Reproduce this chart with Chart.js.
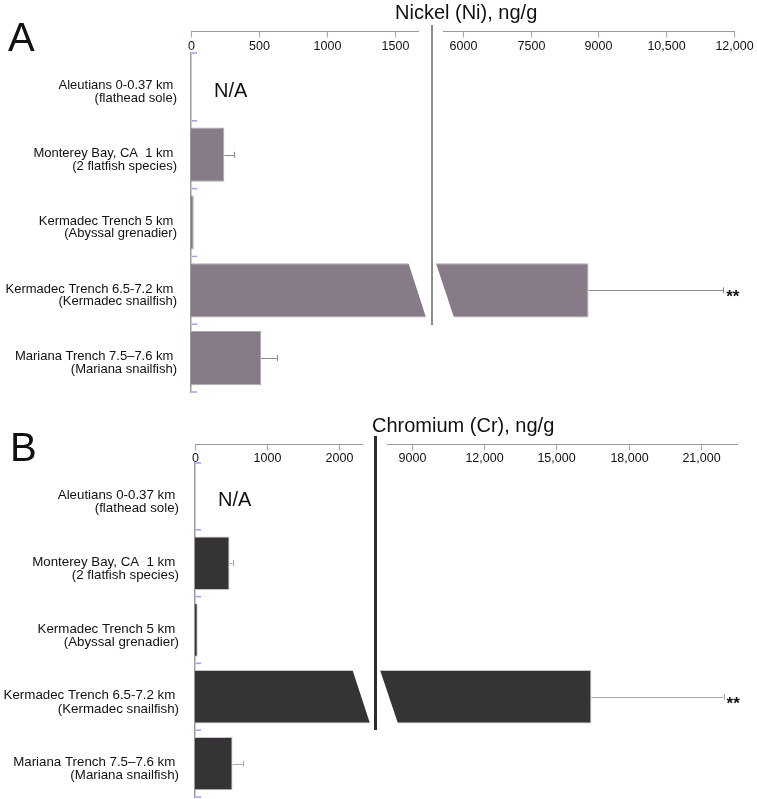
<!DOCTYPE html>
<html>
<head>
<meta charset="utf-8">
<script src="https://cdn.jsdelivr.net/npm/chart.js@4.4.1/dist/chart.umd.min.js"></script>
<style>
  body { margin: 0; background: #fff; }
  #wrap { position: relative; width: 757px; height: 799px; overflow: hidden; font-family: "Liberation Sans", Arial, Helvetica, sans-serif; }
  #wrap canvas { position: absolute; }
  .txt { position: absolute; white-space: nowrap; color: #111; }
  .brk { position: absolute; }
</style>
</head>
<body>
<div id="wrap">
  <canvas id="niLow" width="430" height="400" style="left:0;top:0"></canvas>
  <canvas id="niHigh" width="327" height="400" style="left:430px;top:0"></canvas>
  <canvas id="crLow" width="372" height="389" style="left:0;top:410px"></canvas>
  <canvas id="crHigh" width="385" height="389" style="left:372px;top:410px"></canvas>
  <div class="brk" style="left:431px;top:25px;width:2px;height:300px;background:#8c8c8c"></div>
  <div class="brk" style="left:374px;top:436px;width:3px;height:294px;background:#2b2b2b"></div>
  <div class="txt" style="left:8px;top:17px;font-size:40px;line-height:40px;">A</div>
  <div class="txt" style="left:10px;top:427px;font-size:40px;line-height:40px;">B</div>
  <div class="txt" style="left:395px;top:1.5px;font-size:20px;line-height:20px;">Nickel (Ni), ng/g</div>
  <div class="txt" style="left:372px;top:415px;font-size:20px;line-height:20px;">Chromium (Cr), ng/g</div>
</div>
<script>
// data
var sites = [
    ['Aleutians 0-0.37 km ', '(flathead sole)'],
    ['Monterey Bay, CA  1 km ', '(2 flatfish species)'],
    ['Kermadec Trench 5 km ', '(Abyssal grenadier)'],
    ['Kermadec Trench 6.5-7.2 km ', '(Kermadec snailfish)'],
    ['Mariana Trench 7.5\u20137.6 km ', '(Mariana snailfish)']
];
var nickel = [null, 245, 20, 8780, 515];
var nickelErr = [null, 74, 0, 2980, 120];
var chromium = [null, 478, 37, 16450, 520];
var chromiumErr = [null, 42, 0, 5490, 139];
var signif = ['', '', '', '**', ''];

var niLowTicks = ['0', '500', '1000', '1500'];
var niHighTicks = ['6000', '7500', '9000', '10,500', '12,000'];
var crLowTicks = ['0', '1000', '2000'];
var crHighTicks = ['9000', '12,000', '15,000', '18,000', '21,000'];
var niLowRange = [0, 1670];
var niHighRange = [5560, 12000];
var crLowRange = [0, 2312];
var crHighRange = [7960, 22500];

var FONT = '"Liberation Sans", Arial, Helvetica, sans-serif';

// draws top axis, category marks, error bars, N/A and the slanted break
function breakPlugin(cfg) {
    return {
        id: 'breakAxis',
        afterDatasetsDraw: function(chart) {
            var ctx = chart.ctx, area = chart.chartArea;
            var xs = chart.scales.x, ys = chart.scales.y;
            var vals = chart.data.datasets[0].data;
            var bars = chart.getDatasetMeta(0).data;
            ctx.save();

            bars.forEach(function(bar, i) {
                var v = vals[i];
                var top = bar.y - bar.height / 2, bottom = bar.y + bar.height / 2;
                if (v === null) {
                    if (xs.min <= 0) {
                        ctx.fillStyle = '#111';
                        ctx.font = '20px ' + FONT;
                        ctx.textAlign = 'left';
                        ctx.textBaseline = 'alphabetic';
                        ctx.fillText('N/A', xs.getPixelForValue(0) + 23, bar.y + 10);
                    }
                    return;
                }
                ctx.fillStyle = '#fff';
                if (cfg.side === 'low' && v > xs.max) {
                    var e = area.right + cfg.overhang;
                    ctx.beginPath();
                    ctx.moveTo(e - cfg.slant, top - 1.5);
                    ctx.lineTo(e + 3, top - 1.5);
                    ctx.lineTo(e + 3, bottom + 1.5);
                    ctx.lineTo(e, bottom + 1.5);
                    ctx.lineTo(e, bottom);
                    ctx.closePath();
                    ctx.fill();
                }
                if (cfg.side === 'high' && v > xs.min) {
                    var s = area.left - cfg.overhang;
                    ctx.beginPath();
                    ctx.moveTo(s - 3, top - 1.5);
                    ctx.lineTo(s, top - 1.5);
                    ctx.lineTo(s, top);
                    ctx.lineTo(s + cfg.slant, bottom);
                    ctx.lineTo(s + cfg.slant, bottom + 1.5);
                    ctx.lineTo(s - 3, bottom + 1.5);
                    ctx.closePath();
                    ctx.fill();
                }
                var err = cfg.errors[i];
                if (v >= xs.min && v <= xs.max && err > 0) {
                    var x0 = xs.getPixelForValue(v), x1 = xs.getPixelForValue(v + err);
                    ctx.strokeStyle = cfg.errColor;
                    ctx.lineWidth = 1;
                    ctx.beginPath();
                    ctx.moveTo(x0, Math.round(bar.y) + 0.5);
                    ctx.lineTo(x1, Math.round(bar.y) + 0.5);
                    ctx.moveTo(Math.round(x1) + 0.5, bar.y - 3);
                    ctx.lineTo(Math.round(x1) + 0.5, bar.y + 3);
                    ctx.stroke();
                    if (signif[i]) {
                        ctx.fillStyle = '#111';
                        ctx.font = 'bold 17px ' + FONT;
                        ctx.textAlign = 'left';
                        ctx.textBaseline = 'alphabetic';
                        ctx.fillText(signif[i], x1 + 3, bar.y + 12);
                    }
                }
            });

            // top axis with ticks below the line
            var lineY = Math.round(area.top - cfg.axisGap) + 0.5;
            ctx.strokeStyle = '#9a9a9a';
            ctx.lineWidth = 1;
            ctx.beginPath();
            ctx.moveTo(area.left, lineY);
            ctx.lineTo(area.right + 1, lineY);
            ctx.stroke();
            ctx.font = '12.5px ' + FONT;
            ctx.textAlign = 'center';
            ctx.textBaseline = 'middle';
            cfg.ticks.forEach(function(lbl) {
                var px = Math.round(xs.getPixelForValue(Number(lbl.replace(/,/g, '')))) + 0.5;
                ctx.strokeStyle = '#a59cf2';
                ctx.beginPath();
                ctx.moveTo(px, lineY + 0.5);
                ctx.lineTo(px, lineY + 6);
                ctx.stroke();
                ctx.fillStyle = '#111';
                ctx.fillText(lbl, px, lineY + cfg.labelDy);
            });

            // category boundary marks
            if (cfg.side === 'low') {
                var n = vals.length;
                var half = (ys.getPixelForValue(1) - ys.getPixelForValue(0)) / 2;
                ctx.strokeStyle = '#a59cf2';
                ctx.lineWidth = 1.5;
                for (var k = 0; k <= n; k++) {
                    var py = k < n ? ys.getPixelForValue(k) - half : ys.getPixelForValue(n - 1) + half;
                    ctx.beginPath();
                    ctx.moveTo(area.left + 1, py);
                    ctx.lineTo(area.left + 6, py);
                    ctx.stroke();
                }
            }
            ctx.restore();
        }
    };
}

function makeChart(id, cfg) {
    var canvas = document.getElementById(id);
    if (!canvas) return;
    var low = cfg.side === 'low';
    new Chart(canvas.getContext('2d'), {
        type: 'bar',
        data: {
            labels: sites,
            datasets: [{
                data: cfg.values,
                backgroundColor: cfg.fill,
                borderColor: cfg.edge,
                borderWidth: 1,
                barPercentage: 0.8,
                categoryPercentage: 1.0,
                clip: low ? { left: 0, top: 2, right: cfg.overhang, bottom: 2 }
                          : { left: cfg.overhang, top: 2, right: 0, bottom: 2 }
            }]
        },
        options: {
            indexAxis: 'y',
            responsive: false,
            animation: false,
            layout: { padding: cfg.padding },
            plugins: {
                legend: { display: false },
                tooltip: { enabled: false }
            },
            scales: {
                x: {
                    type: 'linear',
                    display: false,
                    min: cfg.range[0],
                    max: cfg.range[1]
                },
                y: {
                    display: low,
                    afterFit: function(scale) {
                        scale.width = cfg.axisWidth;
                        // labels sit inside their bands, no extra room needed
                        scale.paddingTop = 0;
                        scale.paddingBottom = 0;
                    },
                    grid: { display: false, drawTicks: false },
                    border: { display: true, color: '#9a9a9a', width: 1.5 },
                    ticks: {
                        autoSkip: false,
                        padding: cfg.labelPad,
                        labelOffset: cfg.labelOffset,
                        color: '#111',
                        font: { family: FONT, size: cfg.labelSize, lineHeight: cfg.labelLine }
                    }
                }
            }
        },
        plugins: [breakPlugin(cfg)]
    });
}

document.addEventListener('DOMContentLoaded', function() {
    makeChart('niLow', {
        side: 'low', values: nickel, errors: nickelErr, range: niLowRange, ticks: niLowTicks,
        fill: '#867b86', edge: '#b0aab0', errColor: '#8a8a8a',
        padding: { top: 53, right: 12, bottom: 8, left: 0 },
        axisWidth: 191, labelPad: 14, labelOffset: 5, labelSize: 13, labelLine: 0.96,
        axisGap: 22, labelDy: 15.5, overhang: 8, slant: 18
    });
    makeChart('niHigh', {
        side: 'high', values: nickel, errors: nickelErr, range: niHighRange, ticks: niHighTicks,
        fill: '#867b86', edge: '#b0aab0', errColor: '#8a8a8a',
        padding: { top: 53, right: 23, bottom: 8, left: 13 },
        axisWidth: 0, labelPad: 0, labelOffset: 0, labelSize: 13, labelLine: 1,
        axisGap: 22, labelDy: 15.5, overhang: 7, slant: 18
    });
    makeChart('crLow', {
        side: 'low', values: chromium, errors: chromiumErr, range: crLowRange, ticks: crLowTicks,
        fill: '#353336', edge: '#c4c4c4', errColor: '#a8a8a8',
        padding: { top: 53, right: 10, bottom: 2, left: 0 },
        axisWidth: 195, labelPad: 16, labelOffset: 5.5, labelSize: 13.3, labelLine: 1,
        axisGap: 19, labelDy: 14.5, overhang: 8, slant: 18
    });
    makeChart('crHigh', {
        side: 'high', values: chromium, errors: chromiumErr, range: crHighRange, ticks: crHighTicks,
        fill: '#353336', edge: '#c4c4c4', errColor: '#a8a8a8',
        padding: { top: 53, right: 20, bottom: 2, left: 15 },
        axisWidth: 0, labelPad: 0, labelOffset: 0, labelSize: 13, labelLine: 1,
        axisGap: 19, labelDy: 14.5, overhang: 7, slant: 18
    });
});
</script>
</body>
</html>
